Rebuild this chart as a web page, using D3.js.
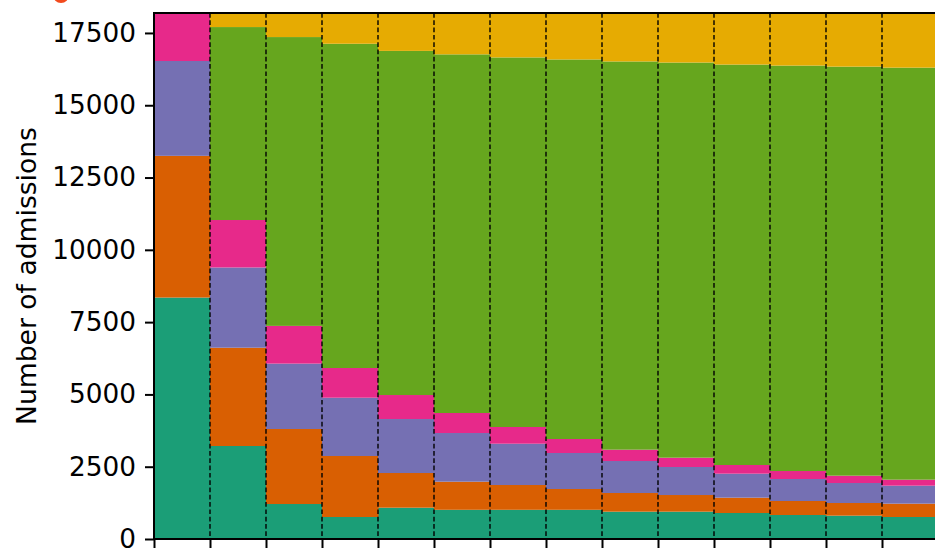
<!DOCTYPE html>
<html>
<head>
<meta charset="utf-8">
<script src="https://cdn.jsdelivr.net/npm/d3@7"></script>
<style>
  body { margin: 0; background: #fff; overflow: hidden; }
  svg { display: block; }
  text { font-family: "DejaVu Sans", sans-serif; }
</style>
</head>
<body>
<div id="chart-area"></div>
<script>
// one bar per period, stacked from the bottom up
var periods = ["0", "1", "2", "3", "4", "5", "6", "7", "8", "9", "10", "11", "12", "13"];
var seriesNames = ["s1", "s2", "s3", "s4", "s5", "s6"];
var seriesColors = ["#1b9e77", "#d95f02", "#7570b3", "#e7298a", "#66a61e", "#e6ab02"];

var s1 = [8350, 3216, 1210, 761, 1083, 1010, 1010, 1010, 945, 945, 899, 830, 807, 761];
var s2 = [4900, 3399, 2594, 2109, 1199, 972, 857, 719, 646, 576, 530, 484, 438, 461];
var s3 = [3280, 2775, 2261, 2016, 1867, 1683, 1428, 1245, 1106, 969, 830, 761, 691, 622];
var s4 = [1660, 1641, 1305, 1027, 830, 692, 578, 484, 392, 322, 300, 276, 254, 208];
var s5 = [0, 6673, 9988, 11214, 11901, 12403, 12781, 13126, 13426, 13665, 13848, 14021, 14145, 14248];
var s6 = [0, 486, 832, 1063, 1310, 1430, 1536, 1606, 1675, 1713, 1783, 1818, 1855, 1890];

var yTicks = [0, 2500, 5000, 7500, 10000, 12500, 15000, 17500];
var yMax = 18190;

var margin = {top: 13, left: 154, bottom: 9, right: -3};
var width = 935 - margin.left - margin.right;
var height = 548 - margin.top - margin.bottom;

var allSeries = [s1, s2, s3, s4, s5, s6];
var rows = periods.map(function(p, i) {
	var row = {period: p};
	seriesNames.forEach(function(name, k) { row[name] = allSeries[k][i]; });
	return row;
});

var svg = d3.select("#chart-area")
	.append("svg")
		.attr("width", 935)
		.attr("height", 548);

var g = svg.append("g")
		.attr("transform", "translate(" + margin.left + ", " + margin.top + ")");

	// scales
var x = d3.scaleBand()
	.domain(periods)
	.range([0, width])
	.padding(0);

var xEdge = d3.scaleLinear()
	.domain([0, periods.length])
	.range([0, width]);

var y = d3.scaleLinear()
	.domain([0, yMax])
	.range([height, 0]);

var color = d3.scaleOrdinal()
	.domain(seriesNames)
	.range(seriesColors);

	// bars
var stacked = d3.stack().keys(seriesNames)(rows);

g.selectAll("g.layer")
	.data(stacked)
	.enter()
	.append("g")
		.attr("class", "layer")
		.attr("fill", function(d) { return color(d.key); })
	.selectAll("rect")
	.data(function(d) { return d; })
	.enter()
	.append("rect")
		.attr("x", function(d) { return x(d.data.period); })
		.attr("width", x.bandwidth() + 0.5)
		.attr("y", function(d) { return y(d[1]); })
		.attr("height", function(d) { return y(d[0]) - y(d[1]); });

	// dashed grid at bar edges
g.selectAll("line.grid")
	.data(d3.range(1, periods.length + 1))
	.enter()
	.append("line")
		.attr("class", "grid")
		.attr("x1", function(d) { return xEdge(d); })
		.attr("x2", function(d) { return xEdge(d); })
		.attr("y1", 0)
		.attr("y2", height)
		.attr("stroke", "#000")
		.attr("stroke-width", 1.4)
		.attr("stroke-dasharray", "4.7,2.6");

	// Y axis
var yAxisCall = d3.axisLeft(y)
	.tickValues(yTicks)
	.tickSize(9)
	.tickPadding(9)
	.tickFormat(d3.format("d"));
var yAxis = g.append("g")
	.attr("class", "y axis")
	.call(yAxisCall);
yAxis.select(".domain").remove();
yAxis.selectAll(".tick line").attr("stroke-width", 2);
yAxis.selectAll(".tick text")
	.attr("font-size", "26.3px")
	.attr("font-family", "DejaVu Sans")
	.attr("fill", "#000");

	// X axis (labels fall below the visible area)
var xAxisCall = d3.axisBottom(xEdge)
	.tickValues(d3.range(0, periods.length + 1))
	.tickSize(9)
	.tickFormat("");
var xAxis = g.append("g")
	.attr("class", "x axis")
	.attr("transform", "translate(0, " + height + ")")
	.call(xAxisCall);
xAxis.select(".domain").remove();
xAxis.selectAll(".tick line").attr("stroke-width", 2);

	// spines
g.append("line")
	.attr("x1", 0).attr("x2", 0)
	.attr("y1", -1).attr("y2", height + 1)
	.attr("stroke", "#000").attr("stroke-width", 2);
g.append("line")
	.attr("x1", -1).attr("x2", width)
	.attr("y1", 0).attr("y2", 0)
	.attr("stroke", "#000").attr("stroke-width", 2);
g.append("line")
	.attr("x1", -1).attr("x2", width)
	.attr("y1", height).attr("y2", height)
	.attr("stroke", "#000").attr("stroke-width", 2);

	// Y label
svg.append("text")
	.attr("transform", "translate(36, " + (margin.top + height / 2) + ") rotate(-90)")
	.attr("text-anchor", "middle")
	.attr("font-size", "26.6px")
	.attr("fill", "#000")
	.text("Number of admissions");

	// edge of a red marker cut off at the top
svg.append("circle")
	.attr("cx", 61)
	.attr("cy", -5)
	.attr("r", 8)
	.attr("fill", "#f24a1d");
</script>
</body>
</html>
